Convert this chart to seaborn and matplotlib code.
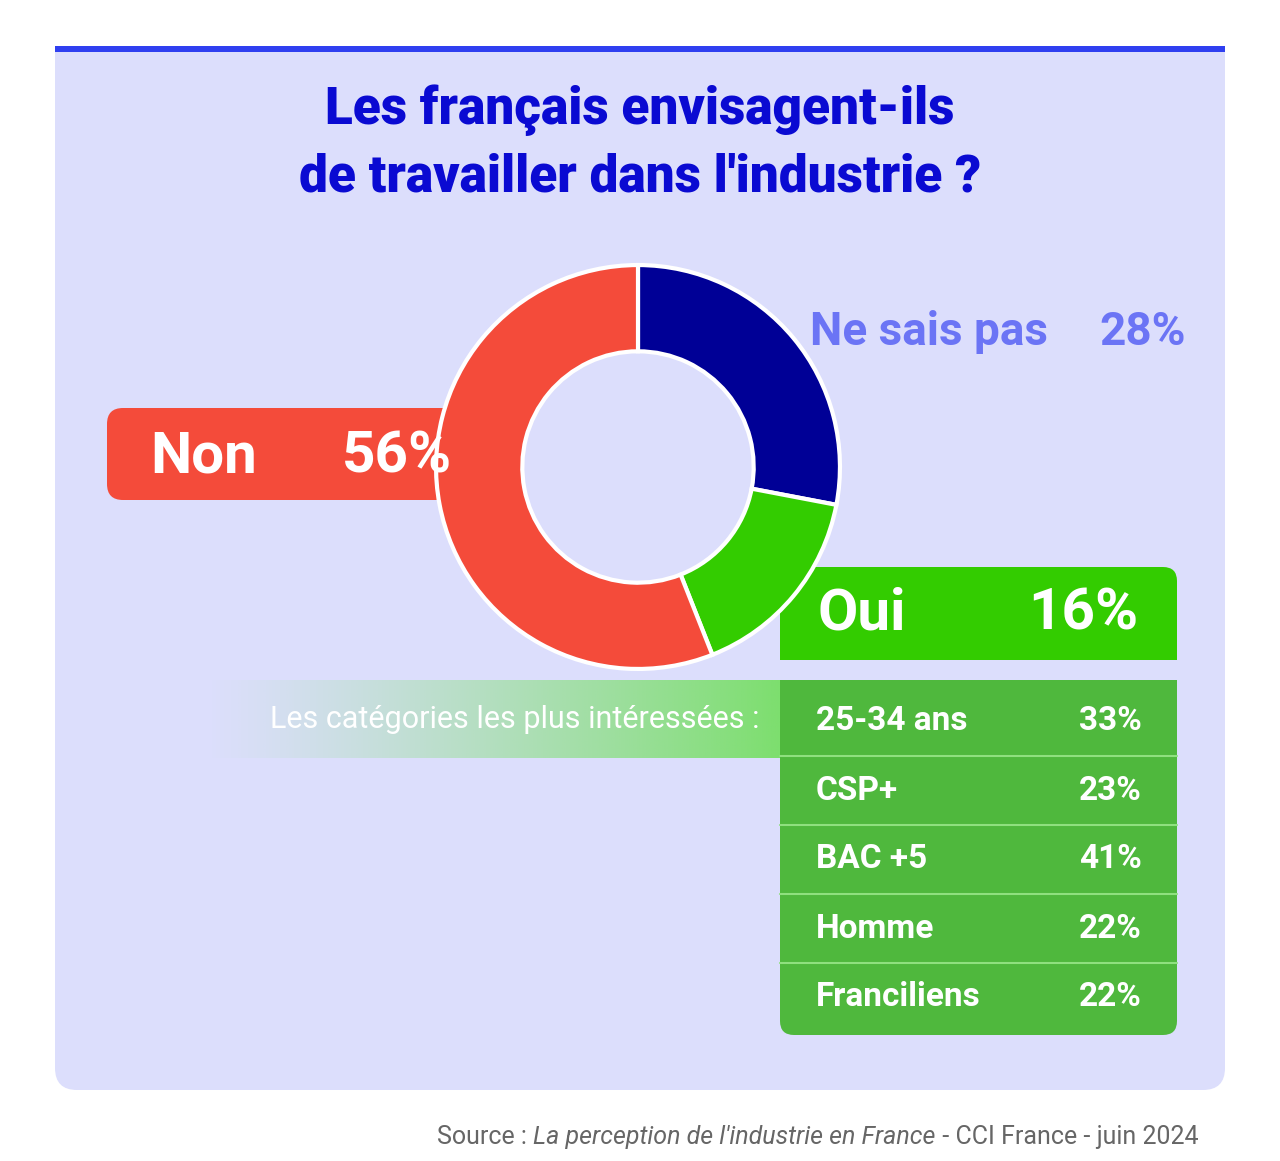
import matplotlib
matplotlib.use("Agg")
import matplotlib.pyplot as plt
import seaborn as sns
import numpy as np
from matplotlib.patches import FancyBboxPatch, Rectangle

sns.set_style("white")

labels = ["Ne sais pas", "Oui", "Non"]
values = [28, 16, 56]
colors = ["#000096", "#33cc00", "#f44b3a"]
cat_labels = ["25-34 ans", "CSP+", "BAC +5", "Homme", "Franciliens"]
cat_values = [33, 23, 41, 22, 22]

W, H = 1280, 1161
fig = plt.figure(figsize=(12.8, 11.61), dpi=100)
fig.patch.set_facecolor("white")
ax = fig.add_axes([0, 0, 1, 1])
ax.set_xlim(0, W); ax.set_ylim(H, 0); ax.axis("off")

F = "Roboto"
bg = "#dcdefc"
ax.add_patch(FancyBboxPatch((55, 48), 1170, 1042, boxstyle="round,pad=0,rounding_size=22", fc=bg, ec="none"))
ax.add_patch(Rectangle((55, 46), 1170, 30, fc=bg, ec="none"))
ax.add_patch(Rectangle((55, 46), 1170, 6, fc="#2f3ff0", ec="none"))

ax.text(640, 110, "Les français envisagent-ils", ha="center", va="center", fontsize=37, fontweight="black", color="#0a0ad2", family=F)
ax.text(640, 178, "de travailler dans l'industrie ?", ha="center", va="center", fontsize=37, fontweight="black", color="#0a0ad2", family=F)

ax.add_patch(FancyBboxPatch((107, 408), 360, 92, boxstyle="round,pad=0,rounding_size=16", fc="#f44b3a", ec="none"))

ax.add_patch(FancyBboxPatch((780, 567), 397, 93, boxstyle="round,pad=0,rounding_size=14", fc="#33cc00", ec="none"))
ax.add_patch(Rectangle((780, 600), 397, 60, fc="#33cc00", ec="none"))
ax.add_patch(Rectangle((780, 567), 60, 93, fc="#33cc00", ec="none"))
ax.add_patch(FancyBboxPatch((780, 680), 397, 355, boxstyle="round,pad=0,rounding_size=14", fc="#4fb83d", ec="none"))
ax.add_patch(Rectangle((780, 680), 397, 60, fc="#4fb83d", ec="none"))
row_h = 345 / 5
for i, (l, v) in enumerate(zip(cat_labels, cat_values)):
    yc = 687 + row_h * (i + 0.5)
    ax.text(816, yc, l, ha="left", va="center", fontsize=24, fontweight="bold", color="white", family=F)
    ax.text(1142, yc, f"{v}%", ha="right", va="center", fontsize=24, fontweight="bold", color="white", family=F)
    if i > 0:
        ax.plot([780, 1177], [687 + row_h * i] * 2, color="#8fe07f", lw=1.5)

grad = np.zeros((1, 256, 4))
grad[..., :3] = matplotlib.colors.to_rgb("#7ddf6e")
grad[..., 3] = np.linspace(0, 1, 256) ** 1.2
ax.imshow(grad, extent=(205, 780, 758, 680), aspect="auto", interpolation="bilinear", zorder=1)
ax.text(760, 720, "Les catégories les plus intéressées :", ha="right", va="center", fontsize=22, color="white", family=F, zorder=3)

t1 = ax.text(437, 1137, "Source : ", ha="left", va="center", fontsize=18, color="#666666", family=F)
fig.canvas.draw()
r = fig.canvas.get_renderer()
def nxt(t, s, **kw):
    bb = t.get_window_extent(r)
    return ax.text(bb.x1, H - 1137, s, transform=None, ha="left", va="center", fontsize=18, color="#666666", family=F, **kw)
t2 = nxt(t1, "La perception de l'industrie en France", style="italic")
t3 = nxt(t2, " - CCI France - juin 2024")

cx, cy, R = 638, 467, 206
pax = fig.add_axes([(cx - R) / W, 1 - (cy + R) / H, 2 * R / W, 2 * R / H])
pax.pie(values, colors=colors, startangle=90, counterclock=False,
        wedgeprops=dict(width=88 / 206, edgecolor="white", linewidth=3))
pax.set_aspect("equal")
pax.set_xlim(-1.02, 1.02); pax.set_ylim(-1.02, 1.02)

def ft(x, y, s, **kw):
    fig.text(x / W, 1 - y / H, s, family=F, fontweight="bold", va="center", **kw)
ft(150, 457, "Non", fontsize=42, color="white", ha="left")
ft(452, 457, "56%", fontsize=42, color="white", ha="right")
ft(818, 614, "Oui", fontsize=42, color="white", ha="left")
ft(1138, 614, "16%", fontsize=42, color="white", ha="right")
ft(810, 332, "Ne sais pas", fontsize=33, color="#6b74f5", ha="left")
ft(1186, 332, "28%", fontsize=33, color="#6b74f5", ha="right")

fig.savefig("out.png", dpi=100)
